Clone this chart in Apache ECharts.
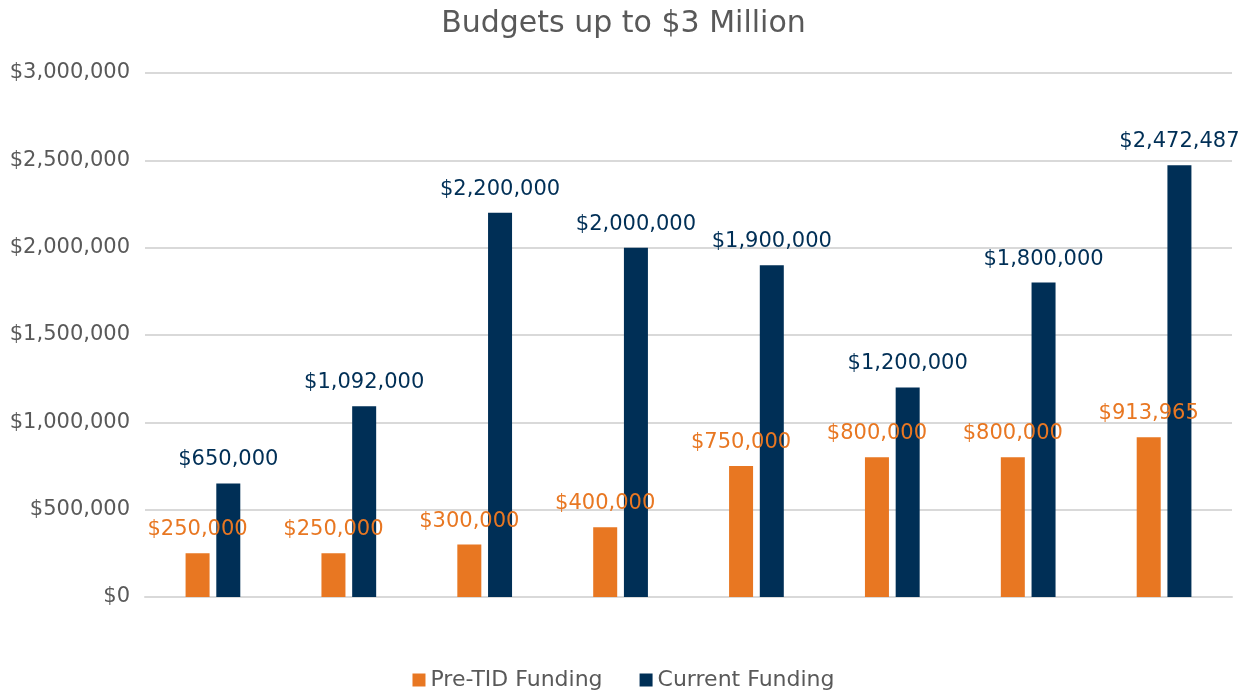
<!DOCTYPE html>
<html>
<head>
<meta charset="utf-8">
<script src="https://cdn.jsdelivr.net/npm/echarts@6/dist/echarts.min.js"></script>
<style>
  html, body { margin: 0; padding: 0; background: #fff; }
  #chart { width: 1247px; height: 696px; }
</style>
</head>
<body>
<div id="chart"></div>
<script>
// 8 districts, no category names shown on the axis
const categories = ['', '', '', '', '', '', '', ''];
const preTid = [250000, 250000, 300000, 400000, 750000, 800000, 800000, 913965];
const current = [650000, 1092000, 2200000, 2000000, 1900000, 1200000, 1800000, 2472487];
const yTicks = [0, 500000, 1000000, 1500000, 2000000, 2500000, 3000000];

const FONT = 'DejaVu Sans';
const money = (v) => '$' + Number(v).toLocaleString('en-US');

const chart = echarts.init(document.getElementById('chart'));
chart.setOption({
  animation: false,
  textStyle: { fontFamily: FONT },
  title: {
    text: 'Budgets up to $3 Million',
    left: 'center',
    top: 4,
    textStyle: { color: '#595959', fontSize: 30, fontWeight: 'normal', fontFamily: FONT },
  },
  legend: {
    bottom: 0,
    left: 'center',
    itemWidth: 13,
    itemHeight: 13,
    itemGap: 37,
    icon: 'rect',
    textStyle: { color: '#595959', fontSize: 22, fontFamily: FONT },
    data: ['Pre-TID Funding', 'Current Funding'],
  },
  grid: { left: 145, right: 15, top: 73, bottom: 99 },
  xAxis: {
    type: 'category',
    data: categories,
    axisLine: { lineStyle: { color: '#d9d9d9', width: 2 } },
    axisTick: { show: false },
    axisLabel: { show: false },
  },
  yAxis: {
    type: 'value',
    min: yTicks[0],
    max: yTicks[yTicks.length - 1],
    interval: yTicks[1] - yTicks[0],
    axisLine: { show: false },
    axisTick: { show: false },
    splitLine: { lineStyle: { color: '#d9d9d9', width: 2 } },
    axisLabel: {
      color: '#595959',
      fontSize: 21,
      margin: 15,
      fontFamily: FONT,
      formatter: money,
    },
  },
  series: [
    {
      name: 'Pre-TID Funding',
      type: 'bar',
      barWidth: 24,
      barGap: '28%',
      itemStyle: { color: '#E87722' },
      label: {
        show: true,
        position: 'top',
        distance: 13,
        color: '#E87722',
        fontSize: 21,
        fontFamily: FONT,
        formatter: (p) => money(p.value),
      },
      data: preTid,
    },
    {
      name: 'Current Funding',
      type: 'bar',
      barWidth: 24,
      itemStyle: { color: '#002F56' },
      label: {
        show: true,
        position: 'top',
        distance: 13,
        color: '#002F56',
        fontSize: 21,
        fontFamily: FONT,
        formatter: (p) => money(p.value),
      },
      data: current,
    },
  ],
});
</script>
</body>
</html>
